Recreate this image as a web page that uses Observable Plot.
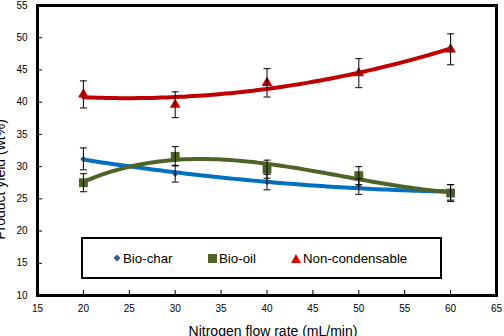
<!DOCTYPE html>
<html>
<head>
<meta charset="utf-8">
<script src="https://cdn.jsdelivr.net/npm/d3@7"></script>
<script src="https://cdn.jsdelivr.net/npm/@observablehq/plot@0.6"></script>
<style>
  html, body { margin: 0; padding: 0; background: #fff; }
  #wrap { position: relative; width: 504px; height: 336px; overflow: hidden; font-family: "Liberation Sans", Arial, sans-serif; }
  #legend { position: absolute; left: 81px; top: 237px; width: 361px; height: 42px; box-sizing: border-box;
            border: 2px solid #000; background: #fff; }
  #legend .item { position: absolute; top: 0; height: 38px; display: flex; align-items: center; font-size: 13.3px; color: #000; }
  #legend svg { margin-right: 2px; }
</style>
</head>
<body>
<div id="wrap">
  <div id="chart"></div>
  <div id="legend"></div>
</div>
<script>
// Nitrogen flow rate (mL/min)
const flowRate = [20, 30, 40, 50, 60];

// Product yields (wt%) and their error half-widths
const bioChar    = [31.2, 28.9, 27.6, 26.9, 26.0];
const bioCharErr = [1.7, 1.3, 1.2, 1.2, 1.2];
const bioOil     = [27.5, 31.6, 29.6, 28.6, 25.9];
const bioOilErr  = [1.4, 1.5, 1.4, 1.4, 1.3];
const nonCond    = [41.2, 39.6, 43.0, 44.5, 48.2];
const nonCondErr = [2.1, 2.0, 2.2, 2.25, 2.4];

const seriesNames = ["Bio-char", "Bio-oil", "Non-condensable"];
const trendOrder  = [2, 3, 2];
const xTicks = [15, 20, 25, 30, 35, 40, 45, 50, 55, 60, 65];
const yTicks = [10, 15, 20, 25, 30, 35, 40, 45, 50, 55];

const styles = {
  "Bio-char":        {line: "#0070C0", mark: "#2E5C9A", symbol: "diamond2", r: 2.9},
  "Bio-oil":         {line: "#4F6228", mark: "#4F6228", symbol: "square",   r: 5.0},
  "Non-condensable": {line: "#C00000", mark: "#C00000", symbol: "triangle", r: 4.0}
};

const values = [bioChar, bioOil, nonCond];
const errors = [bioCharErr, bioOilErr, nonCondErr];

const rows = seriesNames.flatMap((s, i) =>
  flowRate.map((x, j) => ({series: s, x, y: values[i][j], e: errors[i][j]})));

// polynomial least-squares trend line (normal equations, Gaussian elimination)
function polyFit(xs, ys, order) {
  const n = order + 1;
  const A = d3.range(n).map(r => d3.range(n).map(c => d3.sum(xs, x => x ** (r + c))));
  const b = d3.range(n).map(r => d3.sum(xs, (x, i) => ys[i] * x ** r));
  for (let c = 0; c < n; c++) {
    for (let r = c + 1; r < n; r++) {
      const f = A[r][c] / A[c][c];
      for (let k = c; k < n; k++) A[r][k] -= f * A[c][k];
      b[r] -= f * b[c];
    }
  }
  const coef = new Array(n).fill(0);
  for (let r = n - 1; r >= 0; r--) {
    let s = b[r];
    for (let k = r + 1; k < n; k++) s -= A[r][k] * coef[k];
    coef[r] = s / A[r][r];
  }
  return x => d3.sum(coef, (c, k) => c * x ** k);
}

const xMin = d3.min(flowRate), xMax = d3.max(flowRate);
const trend = seriesNames.flatMap((s, i) => {
  const f = polyFit(flowRate, values[i], trendOrder[i]);
  return d3.range(xMin, xMax + 1e-9, 0.5).map(x => ({series: s, x, y: f(x)}));
});

// short horizontal cap for the error bars
const cap = {draw(ctx) { ctx.moveTo(-3.5, 0); ctx.lineTo(3.5, 0); }};

const marks = [];
for (const s of seriesNames) {
  marks.push(Plot.line(trend.filter(d => d.series === s),
    {x: "x", y: "y", stroke: styles[s].line, strokeWidth: 4, curve: "linear"}));
}
for (const s of seriesNames) {
  marks.push(Plot.dot(rows.filter(d => d.series === s),
    {x: "x", y: "y", symbol: styles[s].symbol, r: styles[s].r, fill: styles[s].mark, stroke: "none"}));
}
marks.push(
  Plot.ruleX(rows, {x: "x", y1: d => d.y - d.e, y2: d => d.y + d.e, stroke: "#000", strokeWidth: 1}),
  Plot.dot(rows, {x: "x", y: d => d.y - d.e, symbol: cap, stroke: "#000", fill: "none", strokeWidth: 1}),
  Plot.dot(rows, {x: "x", y: d => d.y + d.e, symbol: cap, stroke: "#000", fill: "none", strokeWidth: 1})
);

const chart = Plot.plot({
  width: 504,
  height: 336,
  marginLeft: 37,
  marginRight: 8,
  marginTop: 5,
  marginBottom: 41,
  style: {fontFamily: "'Liberation Sans', Arial, sans-serif", fontSize: "10px", color: "#000", background: "#fff"},
  x: {domain: [15, 65]},
  y: {domain: [10, 55]},
  marks: [
    Plot.axisX({ticks: xTicks, tickSize: -5, tickPadding: 14, label: null, tickFormat: d => d}),
    Plot.axisY({ticks: yTicks, tickSize: -5, tickPadding: 15, label: null, tickFormat: d => d}),
    ...marks,
    Plot.frame({stroke: "#000", strokeWidth: 3}),
    Plot.text(["Nitrogen flow rate (mL/min)"], {frameAnchor: "bottom", textAnchor: "middle", dx: 6, dy: 40, lineAnchor: "bottom", fontSize: 14}),
    Plot.text(["Product yield (wt%)"], {frameAnchor: "left", textAnchor: "middle", rotate: -90, dx: -33, dy: 29, lineAnchor: "bottom", fontSize: 14})
  ]
});
document.getElementById("chart").appendChild(chart);

// legend
const legend = document.getElementById("legend");
const itemLeft = [30, 125, 208];
const symbolPaths = {
  "Bio-char": '<path d="M4,0.5 L7.5,4 L4,7.5 L0.5,4Z"/>',
  "Bio-oil": '<rect x="0" y="0" width="9" height="9"/>',
  "Non-condensable": '<path d="M4.5,0 L9.5,9 L-0.5,9Z"/>'
};
const symbolSize = {"Bio-char": [8, 8], "Bio-oil": [9, 9], "Non-condensable": [10, 9]};
seriesNames.forEach((s, i) => {
  const item = document.createElement("div");
  item.className = "item";
  item.style.left = itemLeft[i] + "px";
  const [w, h] = symbolSize[s];
  const fill = s === "Non-condensable" ? "#E00000" : styles[s].mark;
  item.innerHTML = `<svg width="${w}" height="${h}" viewBox="${s === "Non-condensable" ? "-0.5 0 10 9" : `0 0 ${w} ${h}`}" fill="${fill}">${symbolPaths[s]}</svg><span>${s}</span>`;
  legend.appendChild(item);
});
</script>
</body>
</html>
